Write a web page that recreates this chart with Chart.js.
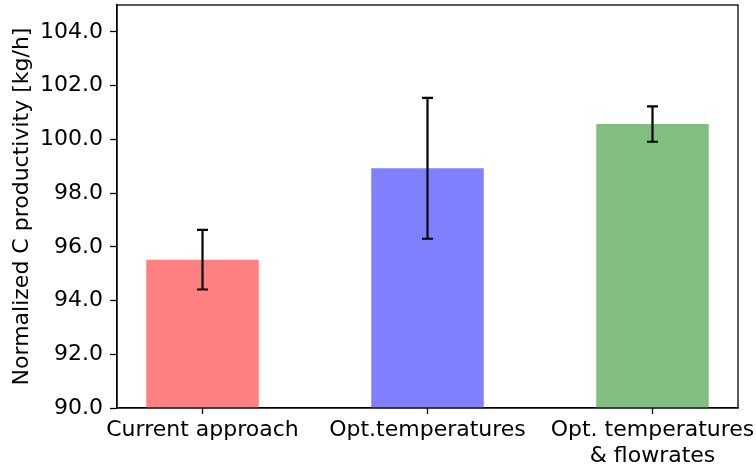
<!DOCTYPE html>
<html>
<head>
<meta charset="utf-8">
<script src="https://cdn.jsdelivr.net/npm/chart.js@4.4.1/dist/chart.umd.min.js"></script>
<style>
  html, body { margin: 0; padding: 0; background: #fff; }
  #wrap { width: 756px; height: 467px; }
</style>
</head>
<body>
<div id="wrap"><canvas id="c" width="756" height="467"></canvas></div>
<script>
// Productivity per operating strategy, with standard deviation
const categories = ["Current approach", "Opt.temperatures", ["Opt. temperatures", "& flowrates"]];
const productivity = [95.52, 98.92, 100.57];
const stdDev = [1.11, 2.62, 0.66];
const barColors = ["rgb(255,128,128)", "rgb(128,128,255)", "rgb(128,191,128)"];
const yTicks = [90, 92, 94, 96, 98, 100, 102, 104];

const FONT = "'DejaVu Sans', sans-serif";

// Black error bars with caps, drawn on top of the bars
const errorBars = {
  id: "errorBars",
  afterDatasetsDraw(chart) {
    const { ctx, scales: { x, y } } = chart;
    ctx.save();
    ctx.strokeStyle = "#000";
    ctx.lineWidth = 2.2;
    productivity.forEach((v, i) => {
      const px = x.getPixelForValue(i);
      const top = y.getPixelForValue(v + stdDev[i]);
      const bot = y.getPixelForValue(v - stdDev[i]);
      const cap = 5.5;
      ctx.beginPath();
      ctx.moveTo(px, top); ctx.lineTo(px, bot);
      ctx.moveTo(px - cap, top); ctx.lineTo(px + cap, top);
      ctx.moveTo(px - cap, bot); ctx.lineTo(px + cap, bot);
      ctx.stroke();
    });
    ctx.restore();
  }
};

// Full frame around the plot area
const frame = {
  id: "frame",
  afterDraw(chart) {
    const { ctx, chartArea: a } = chart;
    ctx.save();
    ctx.strokeStyle = "#000";
    ctx.lineWidth = 1.3;
    ctx.strokeRect(a.left, a.top, a.right - a.left, a.bottom - a.top);
    ctx.restore();
  }
};

new Chart(document.getElementById("c"), {
  type: "bar",
  data: {
    datasets: [{
      data: productivity.map((v, i) => ({ x: i, y: v })),
      backgroundColor: barColors,
      borderWidth: 0,
      barPercentage: 1.0,
      categoryPercentage: 0.5
    }]
  },
  options: {
    responsive: false,
    animation: false,
    layout: { padding: { top: 5, right: 18, left: 0, bottom: 0 } },
    plugins: { legend: { display: false }, tooltip: { enabled: false } },
    scales: {
      x: {
        type: "linear",
        offset: false,
        min: -0.38,
        max: 2.38,
        afterBuildTicks(scale) { scale.ticks = [0, 1, 2].map(v => ({ value: v })); },
        afterFit(scale) { scale.height = 59; scale.paddingLeft = 0; scale.paddingRight = 0; },
        ticks: {
          color: "#000",
          font: { family: FONT, size: 22, lineHeight: 1.15 },
          padding: 4,
          maxRotation: 0,
          autoSkip: false,
          callback: (v) => categories[v]
        },
        grid: { display: true, offset: false, drawOnChartArea: false, drawTicks: true, tickLength: 6, tickColor: "#000", tickWidth: 1.3 },
        border: { display: true, color: "#000", width: 1.3 }
      },
      y: {
        min: 90,
        max: 105,
        afterBuildTicks(scale) { scale.ticks = yTicks.map(v => ({ value: v })); },
        afterFit(scale) { scale.width = 117; scale.paddingTop = 0; scale.paddingBottom = 0; },
        ticks: {
          color: "#000",
          font: { family: FONT, size: 22 },
          padding: 7,
          callback: (v) => v.toFixed(1)
        },
        title: {
          display: true,
          text: "Normalized C productivity [kg/h]",
          color: "#000",
          font: { family: FONT, size: 22 },
          padding: { top: 9, bottom: 0 }
        },
        grid: { display: true, drawOnChartArea: false, drawTicks: true, tickLength: 7, tickColor: "#000", tickWidth: 1.3 },
        border: { display: true, color: "#000", width: 1.3 }
      }
    }
  },
  plugins: [errorBars, frame]
});
</script>
</body>
</html>
